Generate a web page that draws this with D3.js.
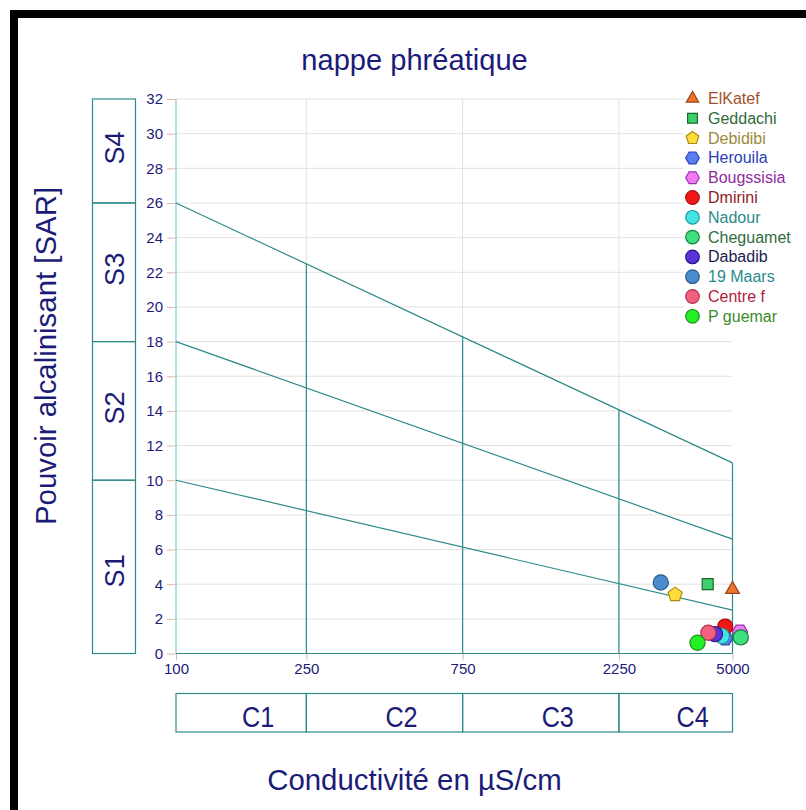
<!DOCTYPE html>
<html>
<head>
<meta charset="utf-8">
<script src="https://cdn.jsdelivr.net/npm/d3@7"></script>
<style>
  html, body { margin: 0; padding: 0; background: #fff; }
  svg { display: block; font-family: Arial, "Liberation Sans", sans-serif; }
</style>
</head>
<body>
<svg id="chart" width="806" height="810"></svg>
<script>
// Riverside diagram (SAR vs. conductivity) for the water table samples
const stations = ["ElKatef", "Geddachi", "Debidibi", "Herouila", "Bougssisia", "Dmirini",
                  "Nadour", "Cheguamet", "Dabadib", "19 Maars", "Centre f", "P guemar"];
const conductivity = [5000, 4200, 3340, 4750, 5270, 4750, 4640, 5300, 4420, 3020, 4220, 3910];
const sar = [3.7, 4.0, 3.4, 0.88, 1.26, 1.55, 1.01, 0.93, 1.12, 4.1, 1.2, 0.62];
const shapes = ["triangle", "square", "pentagon", "hexagon", "hexagon", "circle",
                "circle", "circle", "circle", "circle", "circle", "circle"];
const fills = ["#ee7430", "#3fcf6a", "#ffde3c", "#5a7ef2", "#f07af0", "#f01818",
               "#44e4e4", "#3ee07e", "#5a34d8", "#4a8ccc", "#f2607e", "#24ee24"];
const strokes = ["#9a4416", "#146a2a", "#b08a10", "#2a44b8", "#9a30b8", "#a80c0c",
                 "#1c9a9a", "#1a8040", "#2a1a88", "#2a5c8c", "#b0304c", "#209020"];
const textColors = ["#a0522d", "#2f6a3c", "#9a8a3e", "#2c40b4", "#8e2c9e", "#8e1c24",
                    "#2a8a8a", "#2e6c40", "#1c1c50", "#2a8a8a", "#b0203c", "#3a8c2a"];

const xTicks = [100, 250, 750, 2250, 5000];
const yTicks = d3.range(0, 33, 2);
const salinityClasses = ["C1", "C2", "C3", "C4"];
const sodiumClasses = ["S1", "S2", "S3", "S4"];
const sodiumBounds = [0, 10, 18, 26, 32];
// boundary lines: SAR at EC=100 and at EC=5000
const sarLinesStart = [10, 18, 26];
const sarLinesEnd = [2.5, 6.6, 11];

const svg = d3.select("#chart");
const navy = "#1b1b78";
const teal = "#2f8a8a";

// text with a horizontal squeeze applied along its own baseline
function label(g, txt, tx, ty, rot, size, sx, anchor, fill) {
  return g.append("text")
    .attr("transform", `translate(${tx},${ty}) rotate(${rot}) scale(${sx},1)`)
    .attr("text-anchor", anchor).attr("fill", fill).attr("font-size", size).text(txt);
}

// frame
svg.append("rect").attr("x", 10).attr("y", 10).attr("width", 796).attr("height", 8).attr("fill", "#000");
svg.append("rect").attr("x", 10).attr("y", 10).attr("width", 8).attr("height", 800).attr("fill", "#000");

const x = d3.scaleLog().domain([100, 5000]).range([176, 732.5]);
const y = d3.scaleLinear().domain([0, 32]).range([653.5, 99]);

// grid
svg.append("g").selectAll("line").data(yTicks.filter(d => d > 0)).join("line")
  .attr("x1", x(100)).attr("x2", x(5000)).attr("y1", d => y(d)).attr("y2", d => y(d))
  .attr("stroke", "#e2e2e2").attr("stroke-width", 1);
svg.append("g").selectAll("line").data(xTicks.slice(1, 4)).join("line")
  .attr("x1", d => x(d)).attr("x2", d => x(d)).attr("y1", y(0)).attr("y2", y(32))
  .attr("stroke", "#e2e2e2").attr("stroke-width", 1);

// axes
const yAxis = d3.axisLeft(y).tickValues(yTicks).tickSize(9).tickPadding(4).tickFormat(d3.format("d"));
const gy = svg.append("g").attr("transform", `translate(${x(100)},0)`).call(yAxis);
gy.select(".domain").remove();
gy.selectAll(".tick line").attr("stroke", "#e0b4b4");
gy.selectAll(".tick text").attr("fill", navy).attr("font-size", 15);

const xAxis = d3.axisBottom(x).tickValues(xTicks).tickSize(7).tickPadding(3).tickFormat(d3.format("d"));
const gx = svg.append("g").attr("transform", `translate(0,${y(0)})`).call(xAxis);
gx.select(".domain").remove();
gx.selectAll(".tick line").attr("stroke", "#e0b4b4");
gx.selectAll(".tick text").attr("fill", navy).attr("font-size", 15);

// y axis line and x axis line
svg.append("line").attr("x1", x(100)).attr("x2", x(100)).attr("y1", y(32)).attr("y2", y(0))
  .attr("stroke", "#9fd4d4").attr("stroke-width", 1.5);
svg.append("line").attr("x1", x(100)).attr("x2", x(5000)).attr("y1", y(0)).attr("y2", y(0))
  .attr("stroke", teal).attr("stroke-width", 1.2);

// class boundary lines
const zones = svg.append("g").attr("stroke", teal).attr("stroke-width", 1.2).attr("fill", "none");
sarLinesStart.forEach((s, i) => {
  zones.append("line").attr("x1", x(100)).attr("y1", y(s)).attr("x2", x(5000)).attr("y2", y(sarLinesEnd[i]));
});
const topAt = ec => {
  const t = (Math.log10(ec) - 2) / (Math.log10(5000) - 2);
  return sarLinesStart[2] + (sarLinesEnd[2] - sarLinesStart[2]) * t;
};
xTicks.slice(1).forEach(ec => {
  zones.append("line").attr("x1", x(ec)).attr("x2", x(ec)).attr("y1", y(0)).attr("y2", y(topAt(ec)));
});

// sodium class boxes on the left
const sBox = svg.append("g");
sodiumClasses.forEach((c, i) => {
  const y0 = y(sodiumBounds[i]), y1 = y(sodiumBounds[i + 1]);
  sBox.append("rect").attr("x", 92.5).attr("y", y1).attr("width", 43).attr("height", y0 - y1)
    .attr("fill", "none").attr("stroke", teal).attr("stroke-width", 1.2);
  const cy = (y0 + y1) / 2 + (i === 0 ? 4 : -3);
  label(sBox, c, 124, cy, -90, 28, 0.97, "middle", navy);
});

// salinity class boxes at the bottom
const cBounds = xTicks;
const cBox = svg.append("g");
salinityClasses.forEach((c, i) => {
  const x0 = x(cBounds[i]), x1 = x(cBounds[i + 1]);
  cBox.append("rect").attr("x", x0).attr("y", 693.5).attr("width", x1 - x0).attr("height", 38.5)
    .attr("fill", "none").attr("stroke", teal).attr("stroke-width", 1.2);
  label(cBox, c, (x0 + x1) / 2 + 17, 727, 0, 30, 0.84, "middle", navy);
});

// marker shapes
function polygon(n, r, rot) {
  const pts = d3.range(n).map(k => {
    const a = rot + k * 2 * Math.PI / n;
    return [r * Math.cos(a), r * Math.sin(a)];
  });
  return "M" + pts.map(p => p.join(",")).join("L") + "Z";
}
function shapePath(s, r) {
  switch (s) {
    case "triangle": return polygon(3, r * 1.05, -Math.PI / 2);
    case "square": return `M${-r * 0.72},${-r * 0.72}h${r * 1.44}v${r * 1.44}h${-r * 1.44}Z`;
    case "pentagon": return polygon(5, r * 0.98, -Math.PI / 2);
    case "hexagon": return polygon(6, r, 0);
    default: return d3.symbol().type(d3.symbolCircle).size(Math.PI * r * r)();
  }
}

// data points
const pts = svg.append("g");
stations.forEach((name, i) => {
  pts.append("path")
    .attr("d", shapePath(shapes[i], 7.6))
    .attr("transform", `translate(${x(conductivity[i])},${y(sar[i])})`)
    .attr("fill", fills[i]).attr("stroke", strokes[i]).attr("stroke-width", 1.2);
});

// legend
const lg = svg.append("g");
lg.append("rect").attr("x", 684).attr("y", 88).attr("width", 120).attr("height", 240).attr("fill", "#fff");
stations.forEach((name, i) => {
  const cy = 98.5 + i * 19.8;
  lg.append("path").attr("d", shapePath(shapes[i], 6.8))
    .attr("transform", `translate(692.5,${cy})`)
    .attr("fill", fills[i]).attr("stroke", strokes[i]).attr("stroke-width", 1.2);
  lg.append("text").attr("x", 708).attr("y", cy + 5.5).attr("fill", textColors[i])
    .attr("font-size", 16).text(name);
});

// titles
const titles = svg.append("g");
label(titles, "nappe phréatique", 414.5, 70, 0, 30, 0.97, "middle", navy);
label(titles, "Pouvoir alcalinisant [SAR]", 56, 356, -90, 30, 0.98, "middle", navy);
label(titles, "Conductivité en µS/cm", 414.5, 790, 0, 30, 0.98, "middle", navy);
</script>
</body>
</html>
